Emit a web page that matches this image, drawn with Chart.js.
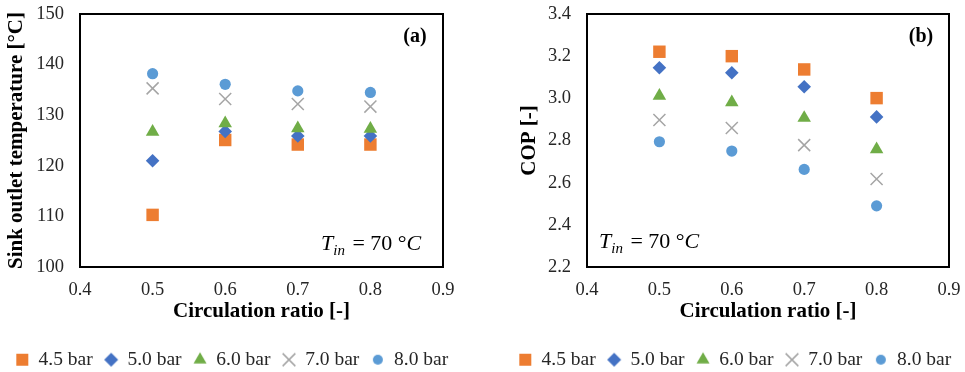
<!DOCTYPE html>
<html>
<head>
<meta charset="utf-8">
<script src="https://cdn.jsdelivr.net/npm/chart.js@4.4.1/dist/chart.umd.min.js"></script>
<style>
  html, body { margin: 0; padding: 0; background: #fff; }
  body { width: 965px; height: 372px; position: relative; overflow: hidden; }
  canvas { position: absolute; top: 0; }
  #chartA { left: 0; }
  #chartB { left: 505px; }
</style>
</head>
<body>
<canvas id="chartA" width="464" height="372"></canvas>
<canvas id="chartB" width="460" height="372"></canvas>
<script>
// circulation ratio (x) shared by both panels
const ratios = [0.5, 0.6, 0.7, 0.8];
const seriesLabels = ['4.5 bar', '5.0 bar', '6.0 bar', '7.0 bar', '8.0 bar'];

// (a) sink outlet temperature [°C]
const sinkTemp45 = [110.3, 125.1, 124.2, 124.2];
const sinkTemp50 = [121.0, 126.8, 125.9, 125.9];
const sinkTemp60 = [126.7, 128.4, 127.4, 127.3];
const sinkTemp70 = [135.3, 133.2, 132.2, 131.7];
const sinkTemp80 = [138.2, 136.1, 134.8, 134.5];

// (b) COP [-]
const cop45 = [3.221, 3.200, 3.137, 3.001];
const cop50 = [3.145, 3.121, 3.055, 2.912];
const cop60 = [3.012, 2.981, 2.907, 2.758];
const cop70 = [2.897, 2.859, 2.778, 2.617];
const cop80 = [2.794, 2.750, 2.663, 2.490];

// axis ticks
const xTicks = [0.4, 0.5, 0.6, 0.7, 0.8, 0.9];
const tempTicks = [100, 110, 120, 130, 140, 150];
const copTicks = [2.2, 2.4, 2.6, 2.8, 3.0, 3.2, 3.4];

const serif = "'Liberation Serif', 'Times New Roman', serif";
Chart.defaults.font.family = serif;
Chart.defaults.color = '#262626';

const markers = [
    { pointStyle: 'rect', radius: 8.8, legendRadius: 8.5, fill: '#ED7D31', border: '#ED7D31', width: 0 },
    { pointStyle: 'rectRot', radius: 6.8, legendRadius: 7, fill: '#4472C4', border: '#4472C4', width: 0 },
    { pointStyle: 'triangle', radius: 7.8, legendRadius: 7.5, fill: '#70AD47', border: '#70AD47', width: 0 },
    { pointStyle: 'crossRot', radius: 8.5, legendRadius: 9, fill: '#A5A5A5', border: '#A5A5A5', width: 1.5 },
    { pointStyle: 'circle', radius: 5.6, legendRadius: 5, fill: '#5B9BD5', border: '#5B9BD5', width: 0 }
];

// small legend icons, drawn with the library's own point helper
const legendIcons = markers.map(function (m) {
    const c = document.createElement('canvas');
    c.width = 20;
    c.height = 20;
    const g = c.getContext('2d');
    g.fillStyle = m.fill;
    g.strokeStyle = m.border;
    g.lineWidth = m.width;
    Chart.helpers.drawPoint(g, { pointStyle: m.pointStyle, radius: m.legendRadius, borderWidth: m.width, rotation: 0 }, 10, 10);
    return c;
});

function buildDatasets(seriesList) {
    return seriesList.map(function (values, i) {
        const m = markers[i];
        return {
            label: seriesLabels[i],
            data: ratios.map((r, j) => ({ x: r, y: values[j] })),
            pointStyle: m.pointStyle,
            pointRadius: m.radius,
            pointHoverRadius: m.radius,
            backgroundColor: m.fill,
            borderColor: m.border,
            pointBorderWidth: m.width,
            borderWidth: m.width,
            showLine: false,
            order: seriesList.length - i   // later series drawn on top
        };
    });
}

const framePlugin = {
    id: 'frame',
    beforeDatasetsDraw(chart) {
        const a = chart.chartArea;
        const ctx = chart.ctx;
        ctx.save();
        ctx.strokeStyle = '#000';
        ctx.lineWidth = 2;
        ctx.strokeRect(a.left, a.top, a.right - a.left, a.bottom - a.top);
        ctx.restore();
    }
};

const legendHeight = {
    id: 'legendHeight',
    beforeInit(chart) {
        const fit = chart.legend.fit;
        chart.legend.fit = function () {
            fit.bind(chart.legend)();
            this.height = 34;
        };
    }
};

function drawTin(ctx, x, y) {
    ctx.fillStyle = '#000';
    ctx.textAlign = 'left';
    ctx.textBaseline = 'alphabetic';
    ctx.font = 'italic 22px ' + serif;
    ctx.fillText('T', x, y);
    x += ctx.measureText('T').width;
    ctx.font = 'italic 15px ' + serif;
    ctx.fillText('in', x, y + 5);
    x += ctx.measureText('in').width + 2;
    ctx.font = '22px ' + serif;
    ctx.fillText(' = 70 °', x, y);
    x += ctx.measureText(' = 70 °').width;
    ctx.font = 'italic 22px ' + serif;
    ctx.fillText('C', x, y);
}

function notesPlugin(tag, tinLeft) {
    return {
        id: 'notes',
        afterDraw(chart) {
            const a = chart.chartArea;
            const ctx = chart.ctx;
            ctx.save();
            ctx.fillStyle = '#000';
            ctx.font = 'bold 20px ' + serif;
            ctx.textAlign = 'center';
            ctx.textBaseline = 'middle';
            ctx.fillText(tag, a.right - 28, a.top + 23);
            if (tinLeft) {
                drawTin(ctx, a.left + 12, a.bottom - 19);
            } else {
                drawTin(ctx, a.right - 122, a.bottom - 17);
            }
            ctx.restore();
        }
    };
}

function makeChart(canvasId, seriesList, yTicks, yTitle, yWidth, rightWidth, titlePad, tag, tinLeft, yFmt) {
    return new Chart(document.getElementById(canvasId), {
        type: 'scatter',
        data: { datasets: buildDatasets(seriesList) },
        options: {
            responsive: false,
            animation: false,
            events: [],
            layout: { padding: { top: 14, left: 0, right: 0, bottom: 0 } },
            plugins: {
                legend: {
                    position: 'bottom',
                    labels: {
                        usePointStyle: true,
                        boxWidth: 13,
                        boxHeight: 13,
                        padding: 12,
                        color: '#262626',
                        font: { size: 19.5 },
                        sort: (a, b) => a.datasetIndex - b.datasetIndex,
                        generateLabels: function (chart) {
                            const items = Chart.defaults.plugins.legend.labels.generateLabels(chart);
                            items.forEach(function (it) { it.pointStyle = legendIcons[it.datasetIndex]; });
                            return items;
                        }
                    }
                },
                tooltip: { enabled: false }
            },
            scales: {
                x: {
                    type: 'linear',
                    min: xTicks[0],
                    max: xTicks[xTicks.length - 1],
                    grid: { display: false, drawTicks: false },
                    border: { display: false },
                    afterBuildTicks: function (scale) {
                        scale.ticks = xTicks.map(v => ({ value: v }));
                    },
                    afterFit: function (scale) {
                        scale.height = 71;
                        scale.paddingLeft = 0;
                        scale.paddingRight = 0;
                    },
                    ticks: {
                        padding: 12,
                        font: { size: 18.5 },
                        color: '#262626',
                        callback: v => Number(v).toFixed(1)
                    },
                    title: {
                        display: true,
                        text: 'Circulation ratio [-]',
                        color: '#000',
                        font: { size: 21, weight: 'bold' },
                        padding: { top: 0, bottom: 14 }
                    }
                },
                y: {
                    type: 'linear',
                    min: yTicks[0],
                    max: yTicks[yTicks.length - 1],
                    grid: { display: false, drawTicks: false },
                    border: { display: false },
                    afterBuildTicks: function (scale) {
                        scale.ticks = yTicks.map(v => ({ value: v }));
                    },
                    afterFit: function (scale) {
                        scale.width = yWidth;
                        scale.paddingTop = 0;
                        scale.paddingBottom = 0;
                    },
                    ticks: {
                        padding: 16,
                        font: { size: 18.5 },
                        color: '#262626',
                        callback: yFmt
                    },
                    title: {
                        display: true,
                        text: yTitle,
                        color: '#000',
                        font: { size: 21, weight: 'bold' },
                        padding: { top: titlePad, bottom: 0 }
                    }
                },
                yPad: {
                    type: 'linear',
                    position: 'right',
                    grid: { display: false, drawTicks: false },
                    border: { display: false },
                    ticks: { display: false },
                    afterFit: function (scale) {
                        scale.width = rightWidth;
                        scale.paddingTop = 0;
                        scale.paddingBottom = 0;
                    }
                }
            }
        },
        plugins: [framePlugin, legendHeight, notesPlugin(tag, tinLeft)]
    });
}

makeChart('chartA',
    [sinkTemp45, sinkTemp50, sinkTemp60, sinkTemp70, sinkTemp80],
    tempTicks, 'Sink outlet temperature [°C]', 80, 21, 4, '(a)', false,
    v => String(v));

makeChart('chartB',
    [cop45, cop50, cop60, cop70, cop80],
    copTicks, 'COP [-]', 82, 16, 12, '(b)', true,
    v => Number(v).toFixed(1));
</script>
</body>
</html>
